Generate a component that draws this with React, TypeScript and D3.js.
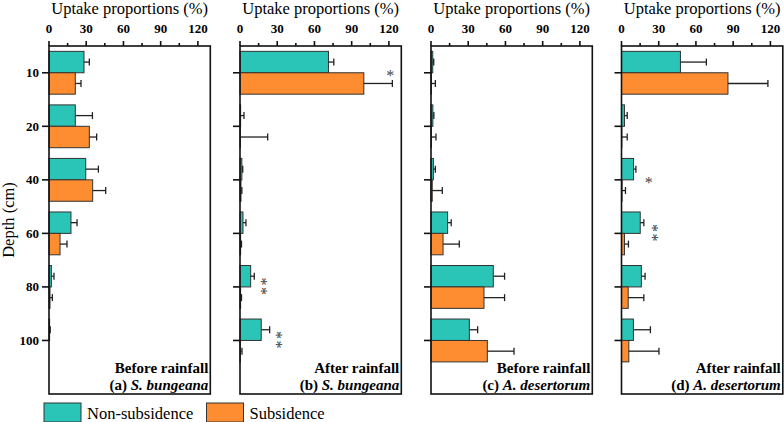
import * as d3 from "d3";

// depth classes (cm)
const depths = ["10", "20", "40", "60", "80", "100"];
const xTicks = [0, 30, 60, 90, 120];
const xMinor = [15, 45, 75, 105];

// uptake proportions (%) and errors, per panel
const sbBeforeNon = [28.2, 21.2, 29.6, 17.7, 1.9, 0.5];
const sbBeforeNonErr = [4.3, 13.8, 10.2, 4.9, 2.1, 0.5];
const sbBeforeSub = [21.2, 32.5, 35.2, 8.9, 0.8, 0];
const sbBeforeSubErr = [4.6, 5.9, 10.5, 5.6, 1.9, 0];

const sbAfterNon = [71.3, 0.5, 1.5, 2.4, 8.6, 17.1];
const sbAfterNonErr = [4.3, 2.7, 0.7, 2.4, 2.9, 6.8];
const sbAfterSub = [99.8, 0.3, 0.8, 0.5, 0.5, 0.3];
const sbAfterSubErr = [23, 22, 0.7, 0.7, 0.7, 1.3];

const adBeforeNon = [1.4, 1.5, 1.9, 13.4, 50.2, 30.9];
const adBeforeNonErr = [0.8, 0.8, 1.6, 2.9, 9.1, 6.7];
const adBeforeSub = [0.3, 0.3, 1.0, 9.7, 42.7, 45.4];
const adBeforeSubErr = [3.2, 3.7, 8.1, 13.1, 16.6, 21.5];

const adAfterNon = [47.5, 2.4, 9.7, 15.1, 16, 9.6];
const adAfterNonErr = [20.9, 2.2, 1.9, 2.9, 3, 13.7];
const adAfterSub = [85.8, 0.3, 0.5, 2.4, 5.4, 5.9];
const adAfterSubErr = [32.2, 4.3, 2.7, 3.2, 12.6, 24.3];

// significance marks: [depth, position on value axis, label]
const sbAfterMarks: [string, number, string][] = [["10", 121, "*"], ["80", 19.3, "**"], ["100", 31.6, "**"]];
const adAfterMarks: [string, number, string][] = [["40", 21.9, "*"], ["60", 26.7, "**"]];

const panels = [
  { stage: "Before rainfall", tag: "(a)", species: "S. bungeana", non: sbBeforeNon, nonErr: sbBeforeNonErr, sub: sbBeforeSub, subErr: sbBeforeSubErr, marks: [] as [string, number, string][] },
  { stage: "After rainfall", tag: "(b)", species: "S. bungeana", non: sbAfterNon, nonErr: sbAfterNonErr, sub: sbAfterSub, subErr: sbAfterSubErr, marks: sbAfterMarks },
  { stage: "Before rainfall", tag: "(c)", species: "A. desertorum", non: adBeforeNon, nonErr: adBeforeNonErr, sub: adBeforeSub, subErr: adBeforeSubErr, marks: [] as [string, number, string][] },
  { stage: "After rainfall", tag: "(d)", species: "A. desertorum", non: adAfterNon, nonErr: adAfterNonErr, sub: adAfterSub, subErr: adAfterSubErr, marks: adAfterMarks },
];

const W = 784;
const H = 422;
const TEAL = "#2BC5B7";
const ORANGE = "#FE8C30";
const FONT = "'Liberation Serif', 'DejaVu Serif', 'Noto Serif', serif";

const top = 46;
const bottom = 394;
const panelLeft = [49, 240, 431, 621.5];
const panelW = 161.3;

const y = d3.scaleLinear().domain([-0.5, 6]).range([top, bottom]);
const barH = (y(1) - y(0)) * 0.4;

function Panel({ p, x0, first }: { p: (typeof panels)[number]; x0: number; first: boolean }) {
  const x = d3.scaleLinear().domain([0, 130]).range([x0, x0 + panelW]);
  const right = x(130);

  const bar = (vals: number[], errs: number[], color: string, upper: boolean) =>
    depths.map((d, i) => {
      const yc = y(i);
      const y0 = upper ? yc - barH : yc;
      const ym = y0 + barH / 2;
      const e = vals[i] + errs[i];
      return (
        <g key={color + d}>
          {vals[i] > 0 && (
            <rect x={x(0)} y={y0} width={x(vals[i]) - x(0)} height={barH} fill={color} stroke="#333" strokeWidth={1} />
          )}
          {errs[i] > 0 && (
            <g stroke="#222" strokeWidth={1.3}>
              <line x1={x(vals[i])} x2={x(e)} y1={ym} y2={ym} />
              <line x1={x(e)} x2={x(e)} y1={ym - 3.5} y2={ym + 3.5} />
            </g>
          )}
        </g>
      );
    });

  return (
    <g>
      <text x={(x0 + right) / 2} y={14} textAnchor="middle" fontSize={16.5}>
        Uptake proportions (%)
      </text>
      {bar(p.non, p.nonErr, TEAL, true)}
      {bar(p.sub, p.subErr, ORANGE, false)}
      {p.marks.map(([d, v, label]) => {
        const yc = y(depths.indexOf(d));
        // stacked marks are written top-to-bottom
        return label.length > 1 ? (
          <text
            key={d}
            transform={`translate(${x(v) - 8}, ${yc}) rotate(90)`}
            textAnchor="middle"
            fontSize={16}
            letterSpacing={1.5}
            fill="#444"
          >
            {label}
          </text>
        ) : (
          <text key={d} x={x(v)} y={yc + 8} textAnchor="middle" fontSize={16} fill="#444">
            {label}
          </text>
        );
      })}
      {/* frame */}
      <g stroke="#111" strokeWidth={1.6} fill="none">
        <rect x={x0} y={top} width={right - x0} height={bottom - top} />
        {xTicks.map((t) => (
          <line key={t} x1={x(t)} x2={x(t)} y1={top} y2={top - 5} />
        ))}
        {xMinor.map((t) => (
          <line key={t} x1={x(t)} x2={x(t)} y1={top} y2={top - 3} />
        ))}
        {depths.map((d, i) => (
          <line key={d} x1={x0} x2={x0 - 7} y1={y(i)} y2={y(i)} />
        ))}
      </g>
      {xTicks.map((t) => (
        <text key={t} x={x(t)} y={33} textAnchor="middle" fontSize={13} fontWeight="bold">
          {t}
        </text>
      ))}
      {first &&
        depths.map((d, i) => (
          <text key={d} x={x0 - 10} y={y(i) + 4.5} textAnchor="end" fontSize={13} fontWeight="bold">
            {d}
          </text>
        ))}
      <text x={right - 2} y={373} textAnchor="end" fontSize={15} fontWeight="bold">
        {p.stage}
      </text>
      <text x={right - 2} y={390} textAnchor="end" fontSize={15} fontWeight="bold">
        {p.tag + " "}
        <tspan fontStyle="italic">{p.species}</tspan>
      </text>
    </g>
  );
}

export default function App() {
  return (
    <svg
      width={W}
      height={H}
      fontFamily={FONT}
      style={{ position: "absolute", left: 0, top: 0, background: "#fff" }}
    >
      <text transform={`translate(14, ${(top + bottom) / 2}) rotate(-90)`} textAnchor="middle" fontSize={16.5}>
        Depth (cm)
      </text>
      {panels.map((p, i) => (
        <Panel key={p.tag} p={p} x0={panelLeft[i]} first={i === 0} />
      ))}
      {/* legend */}
      <rect x={44} y={403} width={37} height={19} fill={TEAL} stroke="#333" strokeWidth={1} />
      <text x={87} y={419} fontSize={16.5}>
        Non-subsidence
      </text>
      <rect x={206.5} y={403} width={37} height={19} fill={ORANGE} stroke="#333" strokeWidth={1} />
      <text x={249.5} y={419} fontSize={16.5}>
        Subsidence
      </text>
    </svg>
  );
}
